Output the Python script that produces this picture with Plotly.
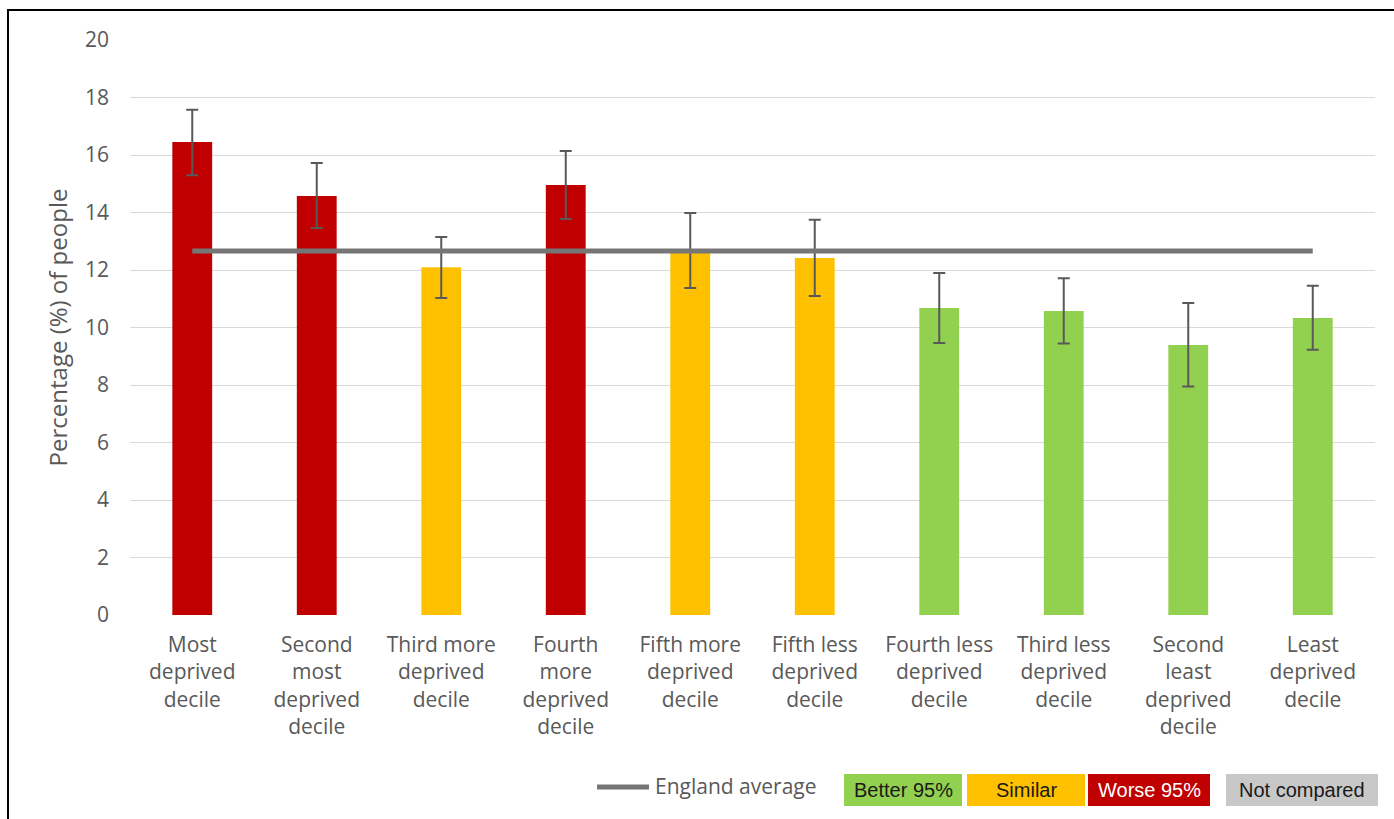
import plotly.graph_objects as go

categories = [
    "Most deprived decile", "Second most deprived decile", "Third more deprived decile",
    "Fourth more deprived decile", "Fifth more deprived decile", "Fifth less deprived decile",
    "Fourth less deprived decile", "Third less deprived decile", "Second least deprived decile",
    "Least deprived decile",
]
tick_labels = [
    "Most<br>deprived<br>decile", "Second<br>most<br>deprived<br>decile", "Third more<br>deprived<br>decile",
    "Fourth<br>more<br>deprived<br>decile", "Fifth more<br>deprived<br>decile", "Fifth less<br>deprived<br>decile",
    "Fourth less<br>deprived<br>decile", "Third less<br>deprived<br>decile", "Second<br>least<br>deprived<br>decile",
    "Least<br>deprived<br>decile",
]
values = [16.45, 14.57, 12.10, 14.96, 12.59, 12.42, 10.68, 10.57, 9.39, 10.33]
upper_ci = [17.57, 15.72, 13.15, 16.14, 13.98, 13.75, 11.90, 11.71, 10.85, 11.45]
lower_ci = [15.30, 13.46, 11.03, 13.77, 11.37, 11.10, 9.46, 9.44, 7.95, 9.23]
comparison = ["Worse", "Worse", "Similar", "Worse", "Similar", "Similar", "Better", "Better", "Better", "Better"]
england_average = 12.66

status_colors = {"Better": "#92D050", "Similar": "#FFC000", "Worse": "#C00000", "Not compared": "#C8C8C8"}
TEXT = "#595959"
FONT = "Open Sans, Arial, sans-serif"

W, H = 1394, 819
ML, MR, MT, MB = 130, 19, 40, 204
PW, PH = W - ML - MR, H - MT - MB


def px(x):
    return (x - ML) / PW


def py(y):
    return (H - MB - y) / PH


fig = go.Figure()
fig.add_trace(go.Bar(
    x=categories, y=values,
    marker=dict(color=[status_colors[c] for c in comparison], line=dict(width=0)),
    error_y=dict(type="data", symmetric=False,
                 array=[u - v for u, v in zip(upper_ci, values)],
                 arrayminus=[v - l for v, l in zip(values, lower_ci)],
                 color="#595959", thickness=2, width=6),
    hoverinfo="skip", showlegend=False,
))
fig.add_trace(go.Scatter(
    x=categories, y=[england_average] * len(categories), mode="lines",
    line=dict(color="#767676", width=5), hoverinfo="skip", showlegend=False,
))

shapes = []
annotations = []
# outer frame
shapes.append(dict(type="rect", xref="paper", yref="paper",
                   x0=px(8), x1=px(1405), y0=py(835), y1=py(10),
                   line=dict(color="black", width=2), fillcolor="rgba(0,0,0,0)", layer="above"))
# legend: England average
shapes.append(dict(type="line", xref="paper", yref="paper", x0=px(597), x1=px(649), y0=py(787), y1=py(787),
                   line=dict(color="#767676", width=5)))
annotations.append(dict(xref="paper", yref="paper", x=px(653), y=py(786), xanchor="left", yanchor="middle",
                        text="England average", showarrow=False, font=dict(family=FONT, size=21, color=TEXT)))
legend_boxes = [
    ("Better 95%", status_colors["Better"], 844, 962, "#1a1a1a"),
    ("Similar", status_colors["Similar"], 967, 1085, "#1a1a1a"),
    ("Worse 95%", status_colors["Worse"], 1088, 1210, "#ffffff"),
    ("Not compared", status_colors["Not compared"], 1226, 1378, "#1a1a1a"),
]
for label, col, x0, x1, tc in legend_boxes:
    shapes.append(dict(type="rect", xref="paper", yref="paper", x0=px(x0), x1=px(x1), y0=py(806), y1=py(774),
                       fillcolor=col, line=dict(width=0)))
    annotations.append(dict(xref="paper", yref="paper", x=px((x0 + x1) / 2), y=py(790), xanchor="center",
                            yanchor="middle", text=label, showarrow=False,
                            font=dict(family="Liberation Sans, Arial, sans-serif", size=20, color=tc)))

fig.update_layout(
    width=W, height=H,
    margin=dict(l=ML, r=MR, t=MT, b=MB, autoexpand=False),
    paper_bgcolor="white", plot_bgcolor="white",
    bargap=0.68,
    font=dict(family=FONT, color=TEXT),
    shapes=shapes, annotations=annotations,
    xaxis=dict(tickmode="array", tickvals=categories, ticktext=tick_labels,
               tickfont=dict(family=FONT, size=21, color=TEXT), showgrid=False, showline=False,
               ticks="", ticklabelstandoff=15, fixedrange=True),
    yaxis=dict(range=[0, 20], dtick=2, tickfont=dict(family=FONT, size=21, color=TEXT),
               gridcolor="#D9D9D9", gridwidth=1, zeroline=False, showline=False, ticks="",
               ticklabelstandoff=20,
               title=dict(text="Percentage (%) of people", font=dict(family=FONT, size=24, color=TEXT), standoff=10),
               fixedrange=True),
)

fig.write_html("out.html", config={"displayModeBar": False},
               post_script="document.body.style.margin='0';document.body.style.padding='0';")
